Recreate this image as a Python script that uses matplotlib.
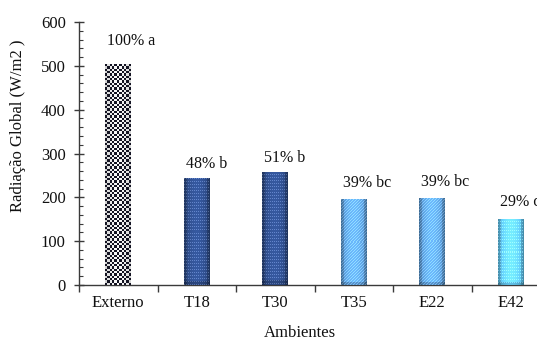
import numpy as np
import matplotlib
matplotlib.use("Agg")
import matplotlib.pyplot as plt
from matplotlib.ticker import MultipleLocator

categories = ["Externo", "T18", "T30", "T35", "E22", "E42"]
values = [504, 244, 258, 196, 199, 151]
labels = ["100% a", "48% b", "51% b", "39% bc", "39% bc", "29% c"]
base_colors = ["#202028", "#2d4a85", "#2d4a85", "#5a9ad4", "#5a9ad4", "#62c6ef"]
textures = ["checker", "dots", "dots", "diag", "diag", "dots"]

plt.rcParams['font.family'] = ['Liberation Serif', 'DejaVu Serif']

fig = plt.figure(figsize=(5.37, 3.40), dpi=100)
ax = fig.add_axes([79/537, 55/340, 471/537, 263/340])

x = np.arange(len(categories))
bars = ax.bar(x, values, width=0.33, color=base_colors, linewidth=0, zorder=2)

ax.set_xlim(-0.5, 5.5)
ax.set_ylim(0, 600)


def make_texture(kind, color, ny, nx):
    rgb = np.array(matplotlib.colors.to_rgb(color))
    jj, ii = np.meshgrid(np.arange(nx), np.arange(ny))
    if kind == "checker":
        c = ((ii + jj) % 2).astype(float)
        u = (jj + 0.5) / nx
        light = 0.80 + 0.18 * np.sin(np.pi * u)
        img = np.where(c[..., None] > 0.5, light[..., None] * np.ones(3), np.array([0.08, 0.08, 0.14]))
        return img
    u = (jj + 0.5) / nx
    shade = 0.75 + 0.45 * np.sin(np.pi * u) ** 0.6
    edge = (u < 0.12) | (u > 0.88)
    shade = np.where(edge, shade * 0.85, shade)
    v = (ii + 0.5) / ny
    shade = shade * np.where(v > 0.96, 0.8, 1.0)
    if kind == "dots":
        pat = (((ii % 3) == 0) & ((jj % 2) == 0)).astype(float)
        lift = 0.18 * pat
    else:
        pat = (((ii + jj) % 3) == 0).astype(float)
        lift = 0.15 * pat
    img = np.clip(rgb[None, None, :] * shade[..., None] + lift[..., None], 0, 1)
    return img


for bar, kind, col in zip(bars, textures, base_colors):
    x0, y0 = bar.get_x(), bar.get_y()
    w, h = bar.get_width(), bar.get_height()
    if kind == "checker":
        ny = max(int(h * 0.438 / 2.3), 2)
        nx = 11
    else:
        ny = max(int(h * 0.438), 2)
        nx = 26
    img = make_texture(kind, col, ny, nx)
    im = ax.imshow(img, extent=[x0, x0 + w, y0, y0 + h], origin="upper",
                   aspect="auto", interpolation="nearest", zorder=3)
    im.set_clip_path(bar)

ax.set_xlim(-0.5, 5.5)
ax.set_ylim(0, 600)

label_offsets = [23, 14, 14, 16, 16, 17]
for bar, lab, off in zip(bars, labels, label_offsets):
    ax.annotate(lab, (bar.get_x(), bar.get_height()), xytext=(2, off),
                textcoords="offset pixels", ha="left", va="center",
                fontsize=11.5, color="#111111")

ax.spines['top'].set_visible(False)
ax.spines['right'].set_visible(False)
for s in ['left', 'bottom']:
    ax.spines[s].set_color("#3a3a3a")
    ax.spines[s].set_linewidth(1.0)

ax.yaxis.set_major_locator(MultipleLocator(100))
ax.yaxis.set_minor_locator(MultipleLocator(20))
ax.tick_params(axis='y', which='major', direction='inout', length=7, width=1,
               labelsize=12, colors="#3a3a3a", labelcolor="#111111", pad=6)
ax.tick_params(axis='y', which='minor', direction='in', length=3, width=0.8, colors="#3a3a3a")

ax.set_xticks(np.arange(-0.5, 6.0, 1.0), minor=True)
ax.set_xticks(x)
ax.set_xticklabels(categories)
ax.tick_params(axis='x', which='major', length=0, labelsize=12, pad=7, labelcolor="#111111")
ax.tick_params(axis='x', which='minor', direction='out', length=5, width=1, colors="#3a3a3a")

fig.text(18/537, 1 - 126/340, "Radiação Global (W/m2 )", rotation=90,
         ha="center", va="center", fontsize=12, color="#111111")
fig.text(300/537, 1 - 333/340, "Ambientes", ha="center", va="center",
         fontsize=12, color="#111111")

fig.savefig("out.png", dpi=100)
